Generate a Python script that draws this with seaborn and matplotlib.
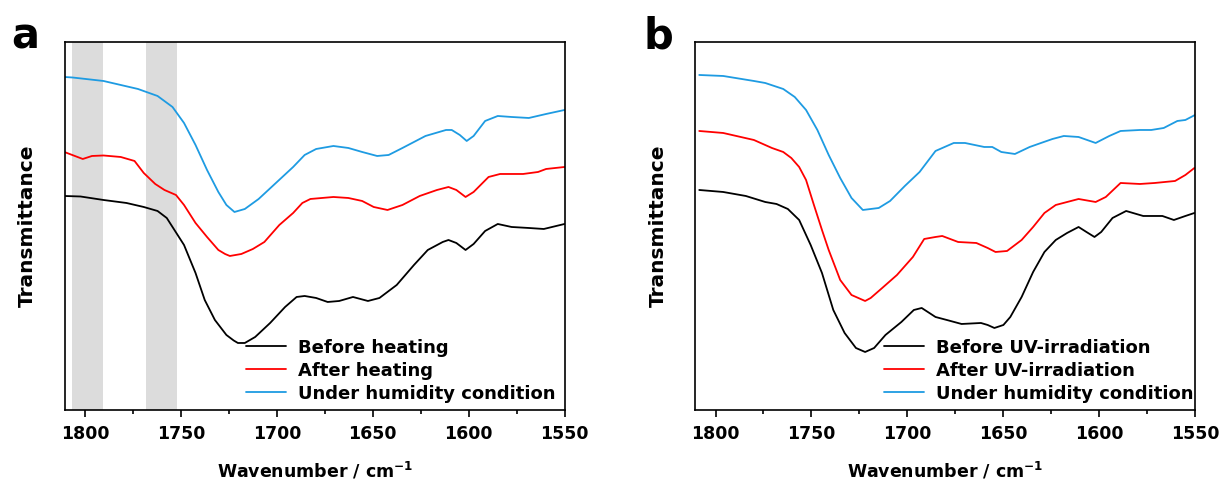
import numpy as np
import pandas as pd
import seaborn as sns
import matplotlib
matplotlib.use('Agg')
import matplotlib.pyplot as plt
from matplotlib.ticker import MultipleLocator

# ---- panel a : heating ----
wn_a_before = [1810.8, 1802.4, 1790.4, 1778.4, 1769.4, 1762.2, 1757.4, 1754.4, 1748.4, 1742.4,
               1737.6, 1732.3, 1726.3, 1722.5, 1720.3, 1716.7, 1711.3, 1703.5, 1695.7, 1689.7, 1685.5,
               1679.5, 1673.5, 1667.5, 1660.3, 1652.5, 1646.5, 1637.5, 1628.5, 1621.3, 1613.5,
               1610.5, 1606.4, 1601.6, 1597.4, 1591.4, 1584.8, 1577.6, 1568.6, 1560.8, 1550.0]
t_a_before = [214, 213.5, 210, 207, 203, 199, 192, 183, 165, 137,
              110, 90, 75, 69.5, 67, 67, 73, 87, 103, 113, 114,
              112, 108, 109, 113, 109, 112, 125, 145, 160, 168,
              170, 167, 160, 166, 179, 186, 183, 182, 181, 186]

wn_a_after = [1810.8, 1801.2, 1796.4, 1790.4, 1781.4, 1774.2, 1769.4, 1763.4, 1758.6, 1752.6,
              1748.4, 1742.4, 1736.4, 1730.5, 1727.0, 1724.5, 1718.5, 1712.5, 1706.5, 1698.7, 1691.5,
              1686.7, 1682.5, 1670.5, 1662.7, 1655.5, 1649.5, 1642.3, 1634.5, 1625.5, 1616.5,
              1610.5, 1606.4, 1601.6, 1597.4, 1589.6, 1583.6, 1571.6, 1563.8, 1559.6, 1550.0]
t_a_after = [258, 251, 254, 254.5, 253, 249, 237, 226, 220, 215,
             205, 187, 173, 160, 156, 154, 156, 161, 168, 185, 197,
             207, 211, 213, 212, 209, 203, 200, 205, 214, 220,
             223, 220, 213, 218, 233, 236, 236, 238, 241, 243]

wn_a_humid = [1810.8, 1806.6, 1790.4, 1772.4, 1762.2, 1754.4, 1748.4, 1742.4, 1736.4, 1730.5,
              1726.3, 1722.1, 1716.7, 1709.5, 1700.5, 1691.5, 1685.5, 1679.5, 1670.5, 1662.7,
              1655.5, 1647.7, 1641.7, 1634.5, 1622.5, 1611.8, 1608.8, 1604.6, 1601.0, 1597.4,
              1591.4, 1584.8, 1577.6, 1568.6, 1559.6, 1550.0]
t_a_humid = [333, 332.5, 329, 321, 314, 303, 287, 265, 240, 218,
             205, 198, 201, 211, 227, 243, 255, 261, 264, 262,
             258, 254, 255, 262, 274, 280, 280, 275, 269, 274,
             289, 294, 293, 292, 296, 300]

# ---- panel b : UV irradiation ----
wn_b_before = [1808.5, 1796.0, 1784.2, 1774.1, 1768.2, 1762.3, 1756.4, 1750.4, 1744.5, 1738.6,
               1732.7, 1726.8, 1722.0, 1717.3, 1711.4, 1703.1, 1696.6, 1692.5, 1685.3, 1679.4,
               1671.7, 1661.6, 1658.1, 1654.6, 1649.9, 1646.3, 1640.4, 1634.4, 1628.5, 1622.6,
               1616.7, 1610.7, 1606.6, 1602.4, 1598.9, 1593.0, 1585.9, 1577.0, 1567.0, 1561.0,
               1555.0, 1550.3]
t_b_before = [220, 218, 214, 208, 206, 201, 190, 165, 137, 100,
              77, 62, 58, 62, 75, 88, 100, 102, 93, 90,
              86, 87, 85, 82, 85, 93, 113, 138, 158, 170,
              177, 183, 178, 173, 178, 192, 199, 194, 194, 190,
              194, 197]

wn_b_after = [1808.5, 1796.0, 1780.0, 1770.6, 1764.7, 1760.5, 1756.4, 1752.8, 1748.7, 1744.5,
              1741.0, 1738.0, 1735.0, 1729.1, 1722.0, 1719.1, 1713.1, 1705.4, 1697.1, 1691.2,
              1685.3, 1681.8, 1673.5, 1664.0, 1658.1, 1654.0, 1648.0, 1640.4, 1634.4, 1628.5,
              1622.6, 1610.7, 1601.8, 1596.5, 1588.8, 1578.7, 1571.0, 1560.4, 1555.0, 1550.3]
t_b_after = [279, 277, 270, 262, 258, 252, 243, 230, 205, 180,
             160, 145, 130, 115, 109, 112, 122, 135, 153, 171,
             173, 174, 168, 167, 162, 158, 159, 170, 183, 197,
             205, 211, 208, 213, 227, 226, 227, 229, 235, 242]

wn_b_humid = [1808.5, 1796.0, 1780.0, 1774.1, 1764.7, 1758.7, 1752.8, 1746.9, 1741.0, 1735.0,
              1729.1, 1723.2, 1714.9, 1709.0, 1701.3, 1693.6, 1685.3, 1675.8, 1669.9, 1659.9,
              1655.7, 1651.0, 1643.9, 1636.2, 1630.3, 1624.3, 1618.4, 1610.7, 1601.8, 1594.7,
              1588.8, 1578.7, 1572.8, 1566.3, 1559.2, 1555.0, 1550.0]
t_b_humid = [335, 334, 329, 327, 321, 313, 300, 280, 255, 232,
             212, 200, 202, 209, 224, 238, 259, 267, 267, 263,
             263, 258, 256, 263, 267, 271, 274, 273, 267, 274,
             279, 280, 280, 282, 289, 290, 295]

labels_a = ['Before heating', 'After heating', 'Under humidity condition']
labels_b = ['Before UV-irradiation', 'After UV-irradiation', 'Under humidity condition']
colors = ['#000000', '#ff0000', '#1e9be2']

# shaded wavenumber windows in panel a
bands_a = [(1806.6, 1790.4), (1768.2, 1752.0)]


def make_frame(series, labels):
    parts = []
    for (wn, t), lab in zip(series, labels):
        parts.append(pd.DataFrame({'Wavenumber': wn, 'Transmittance': t, 'Sample': lab}))
    return pd.concat(parts, ignore_index=True)


df_a = make_frame([(wn_a_before, t_a_before), (wn_a_after, t_a_after), (wn_a_humid, t_a_humid)], labels_a)
df_b = make_frame([(wn_b_before, t_b_before), (wn_b_after, t_b_after), (wn_b_humid, t_b_humid)], labels_b)

sns.set_style('ticks')
plt.rcParams['font.family'] = ['DejaVu Sans']
plt.rcParams['font.weight'] = 'bold'
plt.rcParams['axes.labelweight'] = 'bold'
plt.rcParams['text.color'] = 'black'
plt.rcParams['axes.labelcolor'] = 'black'
plt.rcParams['xtick.color'] = 'black'
plt.rcParams['ytick.color'] = 'black'

fig, axs = plt.subplots(ncols=2, figsize=(12.25, 4.91), dpi=100)
fig.subplots_adjust(left=0.053, right=0.9755, bottom=0.165, top=0.9145, wspace=0.262)

for ax, df, labels, leg_x in [(axs[0], df_a, labels_a, 0.99), (axs[1], df_b, labels_b, 1.005)]:
    sns.lineplot(data=df, x='Wavenumber', y='Transmittance', hue='Sample', hue_order=labels,
                 palette=colors, linewidth=1.3, estimator=None, ax=ax)
    ax.set_xlim(1810.5, 1550)
    ax.set_ylim(0, 368)
    ax.xaxis.set_major_locator(MultipleLocator(50))
    ax.xaxis.set_minor_locator(MultipleLocator(25))
    ax.tick_params(axis='x', which='major', direction='out', length=5, width=1.2,
                   labelsize=12.5, pad=6, top=False)
    ax.tick_params(axis='x', which='minor', direction='out', length=3, width=1.2, top=False)
    ax.set_yticks([])
    for side in ['top', 'right', 'bottom', 'left']:
        ax.spines[side].set_visible(True)
        ax.spines[side].set_linewidth(1.2)
        ax.spines[side].set_color('black')
    ax.set_xlabel(r'Wavenumber / cm$^{\mathbf{-1}}$', fontsize=12.5, labelpad=12)
    ax.set_ylabel('Transmittance', fontsize=14.5, labelpad=20)
    ax.legend(loc='lower right', bbox_to_anchor=(leg_x, 0.01), frameon=False, fontsize=13,
              handlelength=2.2, handletextpad=0.7, labelspacing=0.28, borderpad=0.1,
              borderaxespad=0.1)

for lo, hi in bands_a:
    axs[0].axvspan(lo, hi, color='#dcdcdc', zorder=0, lw=0)

fig.text(0.009, 0.902, 'a', fontsize=30, fontweight='bold', va='baseline')
fig.text(0.525, 0.902, 'b', fontsize=30, fontweight='bold', va='baseline')

fig.savefig('out.png', dpi=100)
